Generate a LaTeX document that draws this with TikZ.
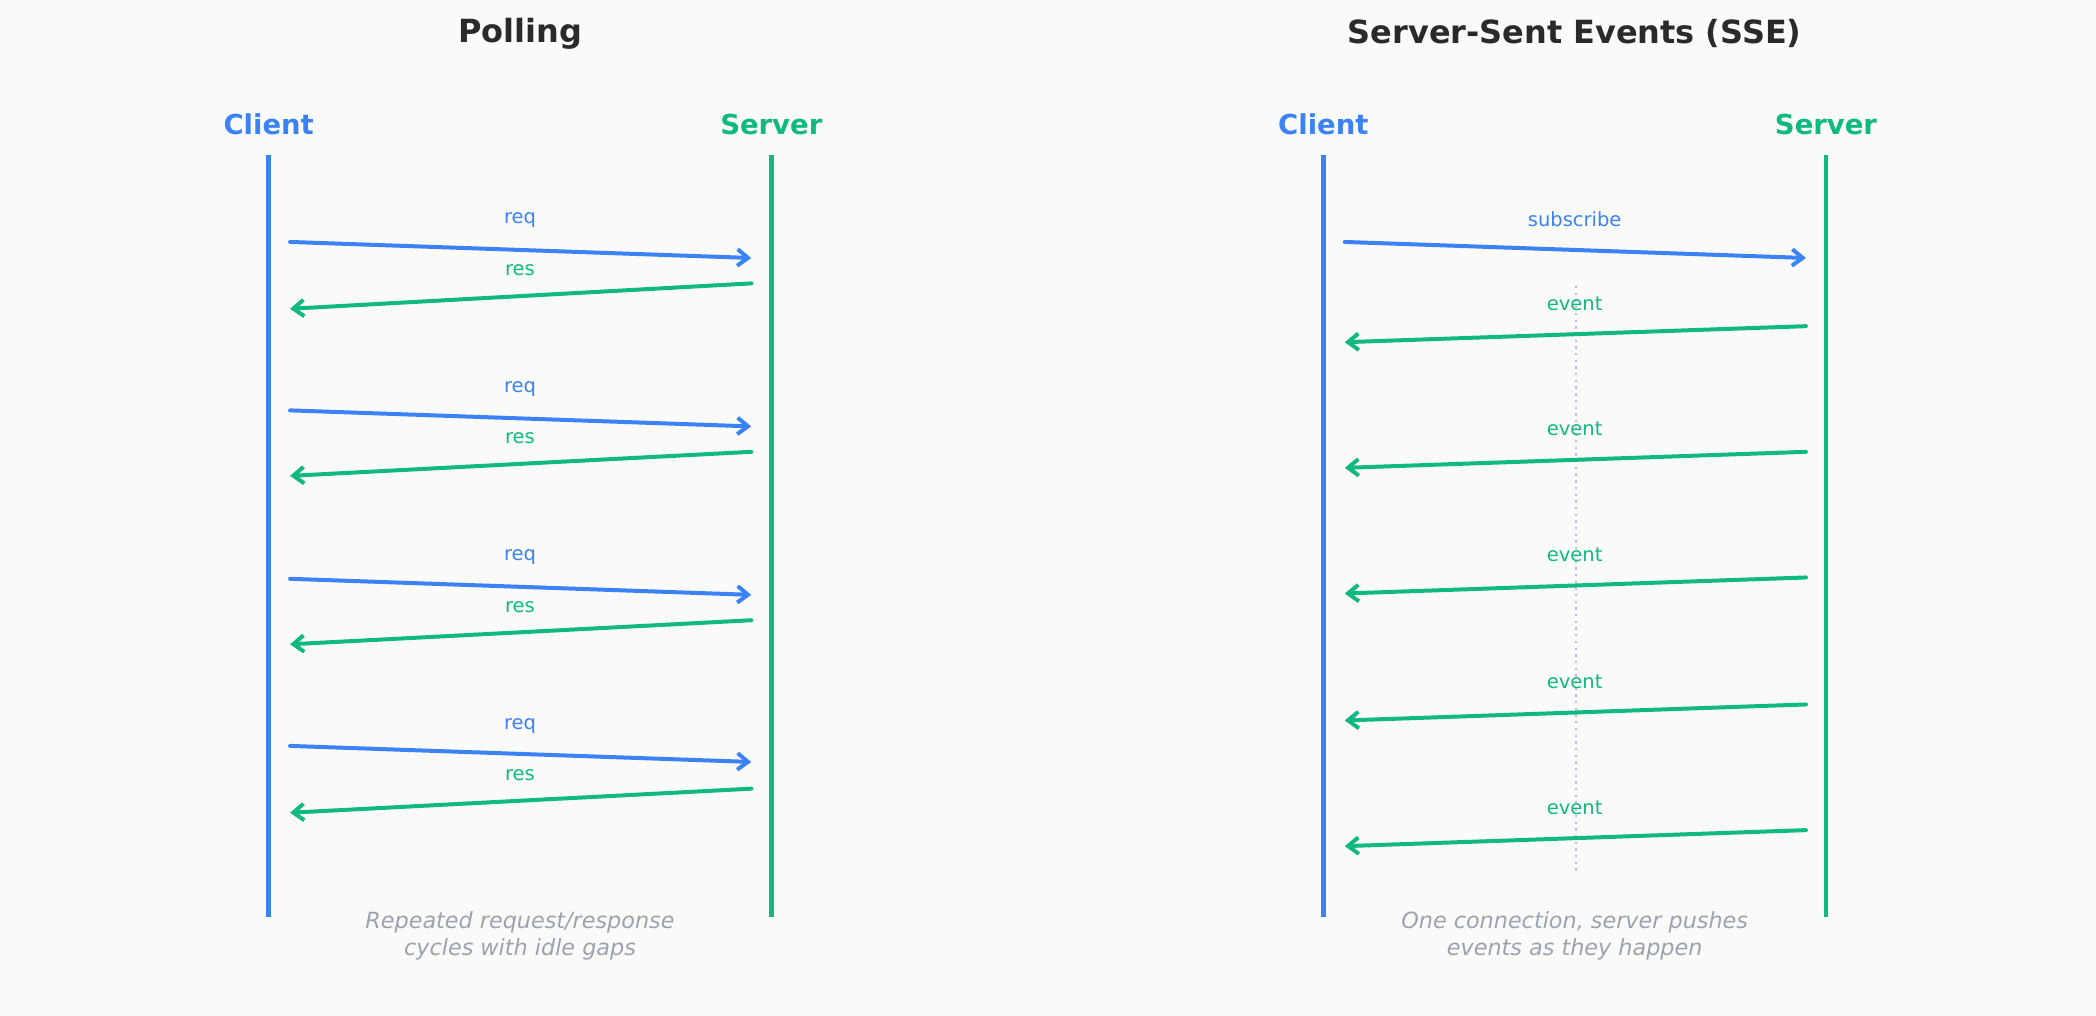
\documentclass[tikz,border=0pt]{standalone}
\usepackage{fontspec}
\setmainfont{DejaVu Sans}
\usetikzlibrary{arrows.meta}

\definecolor{bgcol}{HTML}{FAFAF8}
\definecolor{titlecol}{HTML}{2A2A2A}
\definecolor{clientcol}{HTML}{3B82F6}
\definecolor{servercol}{HTML}{10B981}
\definecolor{notecol}{HTML}{9CA3AF}
\definecolor{gapcol}{HTML}{C4B5FD}

\tikzset{
  titletext/.style={font=\fontsize{13.6}{16}\selectfont\bfseries, text=titlecol},
  clienthead/.style={font=\fontsize{11.7}{14}\selectfont\bfseries, text=clientcol},
  serverhead/.style={font=\fontsize{11.7}{14}\selectfont\bfseries, text=servercol},
  clientlife/.style={draw=clientcol, line width=2pt},
  serverlife/.style={draw=servercol, line width=2pt},
  reqline/.style={draw=clientcol, line width=1.7pt, line cap=round,
    -{Straight Barb[length=4.5pt,width=7pt,line width=1.7pt]}},
  resline/.style={draw=servercol, line width=1.7pt, line cap=round,
    -{Straight Barb[length=4.5pt,width=7pt,line width=1.7pt]}},
  reqlabel/.style={font=\fontsize{8.3}{10}\selectfont, text=clientcol},
  reslabel/.style={font=\fontsize{8.3}{10}\selectfont, text=servercol},
  notetext/.style={font=\fontsize{9.5}{11.4}\selectfont\itshape, text=notecol, align=center},
  gapline/.style={draw=gapcol, line width=1pt, dash pattern=on 1pt off 1.85pt},
}

\begin{document}
\begin{tikzpicture}[x=0.02cm, y=-0.02cm]
    \fill[bgcol] (0,0) rectangle (1568,760);
    \useasboundingbox (0,0) rectangle (1568,760);

    % polling
    \node[titletext] (pollTitle) at (389,25) {Polling};
    \node[clienthead] (pollClient) at (201,93) {Client};
    \node[serverhead] (pollServer) at (577,93) {Server};
    \coordinate (pollCtop) at (201,116); \coordinate (pollCbot) at (201,686);
    \coordinate (pollStop) at (577,116); \coordinate (pollSbot) at (577,686);
    \draw[clientlife] (pollCtop) -- (pollCbot);
    \draw[serverlife] (pollStop) -- (pollSbot);

    \coordinate (req1a) at (217,181); \coordinate (req1b) at (562,193);
    \coordinate (res1a) at (562,212); \coordinate (res1b) at (217,231);
    \draw[reqline] (req1a) -- (req1b);
    \draw[resline] (res1a) -- (res1b);
    \node[reqlabel] (req1) at (389,165) {req};
    \node[reslabel] (res1) at (389,202) {res};

    \coordinate (req2a) at (217,307); \coordinate (req2b) at (562,319);
    \coordinate (res2a) at (562,338); \coordinate (res2b) at (217,356);
    \draw[reqline] (req2a) -- (req2b);
    \draw[resline] (res2a) -- (res2b);
    \node[reqlabel] (req2) at (389,291) {req};
    \node[reslabel] (res2) at (389,328) {res};

    \coordinate (req3a) at (217,433); \coordinate (req3b) at (562,445);
    \coordinate (res3a) at (562,464); \coordinate (res3b) at (217,482);
    \draw[reqline] (req3a) -- (req3b);
    \draw[resline] (res3a) -- (res3b);
    \node[reqlabel] (req3) at (389,417) {req};
    \node[reslabel] (res3) at (389,454) {res};

    \coordinate (req4a) at (217,558); \coordinate (req4b) at (562,570);
    \coordinate (res4a) at (562,590); \coordinate (res4b) at (217,608);
    \draw[reqline] (req4a) -- (req4b);
    \draw[resline] (res4a) -- (res4b);
    \node[reqlabel] (req4) at (389,543) {req};
    \node[reslabel] (res4) at (389,580) {res};

    \node[notetext] (pollNote) at (389,700) {Repeated request/response\\cycles with idle gaps};

    % sse
    \node[titletext] (sseTitle) at (1178,25) {Server-Sent Events (SSE)};
    \node[clienthead] (sseClient) at (990,93) {Client};
    \node[serverhead] (sseServer) at (1366,93) {Server};
    \coordinate (sseCtop) at (990,116); \coordinate (sseCbot) at (990,686);
    \coordinate (sseStop) at (1366,116); \coordinate (sseSbot) at (1366,686);
    \coordinate (gapTop) at (1179,214); \coordinate (gapBot) at (1179,653);
    \draw[gapline] (gapTop) -- (gapBot);
    \draw[clientlife] (sseCtop) -- (sseCbot);
    \draw[serverlife] (sseStop) -- (sseSbot);

    \coordinate (suba) at (1006,181); \coordinate (subb) at (1351,193);
    \draw[reqline] (suba) -- (subb);
    \node[reqlabel] (sub) at (1178,164) {subscribe};

    \coordinate (ev1a) at (1351,244); \coordinate (ev1b) at (1006,256);
    \draw[resline] (ev1a) -- (ev1b);
    \node[reslabel] (ev1) at (1178,227) {event};

    \coordinate (ev2a) at (1351,338); \coordinate (ev2b) at (1006,350);
    \draw[resline] (ev2a) -- (ev2b);
    \node[reslabel] (ev2) at (1178,321) {event};

    \coordinate (ev3a) at (1351,432); \coordinate (ev3b) at (1006,444);
    \draw[resline] (ev3a) -- (ev3b);
    \node[reslabel] (ev3) at (1178,415) {event};

    \coordinate (ev4a) at (1351,527); \coordinate (ev4b) at (1006,539);
    \draw[resline] (ev4a) -- (ev4b);
    \node[reslabel] (ev4) at (1178,510) {event};

    \coordinate (ev5a) at (1351,621); \coordinate (ev5b) at (1006,633);
    \draw[resline] (ev5a) -- (ev5b);
    \node[reslabel] (ev5) at (1178,604) {event};

    \node[notetext] (sseNote) at (1178,700) {One connection, server pushes\\events as they happen};
  \end{tikzpicture}
\end{document}
